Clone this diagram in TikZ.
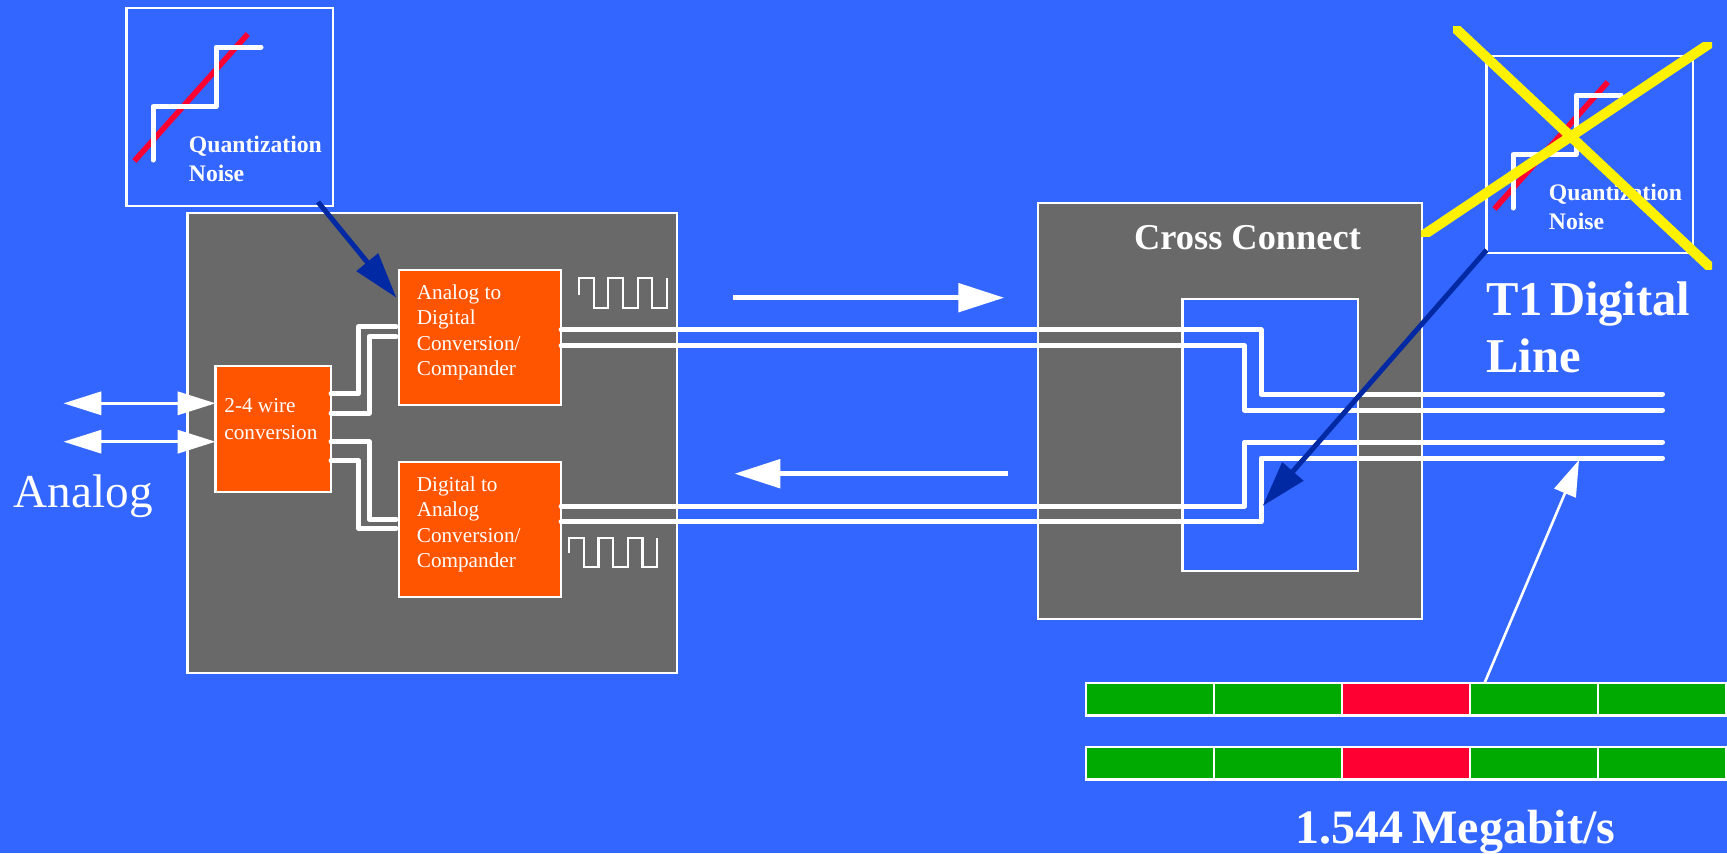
\documentclass[tikz,border=0pt]{standalone}
\usepackage{fontspec}
\setmainfont{Liberation Serif}
\usetikzlibrary{arrows.meta}
\definecolor{slide}{HTML}{3366FF}
\definecolor{cabinet}{HTML}{696969}
\definecolor{block}{HTML}{FF5500}
\definecolor{pointer}{HTML}{0029A3}
\definecolor{slotgreen}{HTML}{00AA00}
\definecolor{slotred}{HTML}{FF0033}

\begin{document}
\begin{tikzpicture}[x=0.5pt, y=-0.5pt,
        frame/.style={draw=white, line width=1.15pt, inner sep=0pt, outer sep=0pt},
        cabinetbox/.style={frame, fill=cabinet},
        blockbox/.style={frame, fill=block},
        noisebox/.style={frame, minimum width=103.2pt, minimum height=98.8pt},
        slot/.style={frame, minimum width=64pt, minimum height=16.2pt},
        wire/.style={draw=white, line width=2.5pt, line cap=round, line join=round},
        wave/.style={draw=white, line width=1.1pt},
        flow/.style={draw=white, line width=2.7pt, -{Triangle[length=23pt, width=14pt]}},
        duplex/.style={draw=white, line width=1.7pt, {Triangle[length=19pt, width=11.5pt]}-{Triangle[length=19pt, width=11.5pt]}},
        pointerline/.style={draw=pointer, line width=2.5pt, -{Triangle[length=23pt, width=13.5pt]}},
        strike/.style={draw=yellow, line width=5pt, line cap=square},
        small/.style={text=white, inner sep=0pt, align=left, anchor=north west, font=\fontsize{10.6}{12.75}\selectfont},
        noisetext/.style={text=white, inner sep=0pt, align=left, anchor=north west, font=\fontsize{11.85}{14.5}\selectfont\bfseries},
        big/.style={text=white, inner sep=0pt, anchor=base west, font=\fontsize{24.3}{29.5}\selectfont\bfseries}]
        \fill[slide] (0,0) rectangle (1727,853);
        \useasboundingbox (0,0) rectangle (1727,853);

        % Cabinets
        \node[cabinetbox, minimum width=244.8pt, minimum height=230pt] (channelbank) at (432.3,443) {};
        \node[cabinetbox, minimum width=192pt, minimum height=208.2pt] (crossconnect) at (1230,410.9) {};
        \node[frame, fill=slide, minimum width=87.8pt, minimum height=136pt] (crosswindow) at (1270.2,435) {};
        \node[text=white, inner sep=0pt, anchor=base, font=\fontsize{18.2}{22}\selectfont\bfseries] (crosstitle) at (1247.5,249) {Cross Connect};

        % Blocks
        \node[blockbox, minimum width=57.7pt, minimum height=62.8pt] (hybrid) at (273.3,428.9) {};
        \node[blockbox, minimum width=81.2pt, minimum height=67.5pt] (encoder) at (479.9,337.5) {};
        \node[blockbox, minimum width=81.2pt, minimum height=67.5pt] (decoder) at (479.9,529.5) {};
        \node[small] (hybridtext) at (224,398.5) {2-4 wire\\[0.4pt]conversion};
        \node[small] (encodertext) at (416.5,284) {Analog to\\Digital\\Conversion/\\Compander};
        \node[small] (decodertext) at (416.5,476) {Digital to\\Analog\\Conversion/\\Compander};

        % Wires between the blocks
        \draw[wire, shorten >=1.3pt] (hybrid.east |- 0,393.7) -| (358.5,326.7) -- (encoder.west |- 0,326.7);
        \draw[wire, shorten >=1.3pt] (hybrid.east |- 0,413) -| (369,336.7) -- (encoder.west |- 0,336.7);
        \draw[wire, shorten >=1.3pt] (hybrid.east |- 0,441.7) -| (369,519) -- (decoder.west |- 0,519);
        \draw[wire, shorten >=1.3pt] (hybrid.east |- 0,460.7) -| (358.5,528.3) -- (decoder.west |- 0,528.3);

        % T1 lines
        \coordinate (lineA) at (1662.5,394);
        \coordinate (lineB) at (1662.5,410);
        \coordinate (lineC) at (1662.5,442);
        \coordinate (lineD) at (1662.5,458);
        \draw[wire] (encoder.east |- 0,329.8) -| (1261,394) -- (lineA);
        \draw[wire] (encoder.east |- 0,345.8) -| (1244.5,410) -- (lineB);
        \draw[wire] (decoder.east |- 0,506) -| (1244.5,442) -- (lineC);
        \draw[wire] (decoder.east |- 0,521.8) -| (1261,458) -- (lineD);

        % Square waves
        \draw[wave] (579,295) |- ++(14.7,-16.7) |- ++(14.6,29.7) |- ++(14.7,-29.7) |- ++(14.7,29.7) |- ++(14.6,-29.7) |- ++(14.5,29.7) -- ++(0,-29.7);
        \draw[wave] (569.2,553) |- ++(14.7,-15.3) |- ++(14.6,29.6) |- ++(14.7,-29.6) |- ++(14.7,29.6) |- ++(14.6,-29.6) |- ++(14.5,29.6) -- ++(0,-29.6);

        % Direction arrows
        \coordinate (eastfrom) at (733,297.7);
        \coordinate (eastto) at (1004.3,297.7);
        \coordinate (westfrom) at (1007.7,473.7);
        \coordinate (westto) at (734.3,473.7);
        \draw[flow] (eastfrom) -- (eastto);
        \draw[flow] (westfrom) -- (westto);

        % Analog side
        \coordinate (analogA) at (63.4,403.3);
        \coordinate (analogB) at (63.4,441.7);
        \draw[duplex] (analogA) -- (hybrid.west |- analogA);
        \draw[duplex] (analogB) -- (hybrid.west |- analogB);
        \node[text=white, inner sep=0pt, anchor=base west, font=\fontsize{23.6}{28}\selectfont] (analogtext) at (13.5,507.5) {Analog};

        % Quantization noise 1
        \node[noisebox] (noiseA) at (229.8,106.9) {};
        \draw[draw=slotred, line width=2.8pt] (134.4,161) -- (247.8,34);
        \draw[wire] (153,160) -- (153,106.7) -- (216,106.7) -- (216,47) -- (261,47);
        \node[noisetext] (noisetextA) at (188.5,135.5) {Quantization\\Noise};

        % Quantization noise 2
        \node[noisebox] (noiseB) at (1589.7,154.5) {};
        \draw[draw=slotred, line width=2.8pt] (1494.4,209) -- (1607.8,82);
        \draw[wire] (1513,208) -- (1513,154.7) -- (1576,154.7) -- (1576,95) -- (1621,95);
        \node[noisetext] (noisetextB) at (1548.5,183.5) {Quantization\\Noise};

        % Pointers
        \coordinate (noiseAfoot) at (318,202);
        \coordinate (encoderhit) at (396.4,297.7);
        \coordinate (noiseBfoot) at (1486.6,250);
        \coordinate (linehit) at (1262.6,506);
        \draw[pointerline] (noiseAfoot) -- (encoderhit);
        \draw[pointerline] (noiseBfoot) -- (linehit);

        % Crossed out
        \begin{scope}
            \clip (1453,26) rectangle (1712,269);
            \draw[strike] (1453,26) -- (1712,269);
        \end{scope}
        \begin{scope}
            \clip (1421,42) rectangle (1712,236.7);
            \draw[strike] (1421,236.7) -- (1712,42);
        \end{scope}

        % Frames
        \foreach \i/\x/\c in {1/1150.3/slotgreen, 2/1278.3/slotgreen, 3/1406.3/slotred, 4/1534.3/slotgreen, 5/1662.3/slotgreen} {
            \node[slot, fill=\c] (frameA\i) at (\x,699.3) {};
            \node[slot, fill=\c] (frameB\i) at (\x,763.2) {};
        }
        \coordinate (framefoot) at (1484.4,683.3);
        \coordinate (linefoot) at (1579,460);
        \draw[draw=white, line width=1.3pt, -{Triangle[length=18pt, width=11.5pt]}] (framefoot) -- (linefoot);

        % Big labels
        \node[big] (t1text) at (1485.7,315) {T1\hspace{0.15em}Digital};
        \node[big] (linetext) at (1485.7,372.5) {Line};
        \node[big, font=\fontsize{24}{30}\selectfont\bfseries] (ratetext) at (1295,843.5) {1.544\hspace{0.19em}Megabit/s};
    \end{tikzpicture}
\end{document}
